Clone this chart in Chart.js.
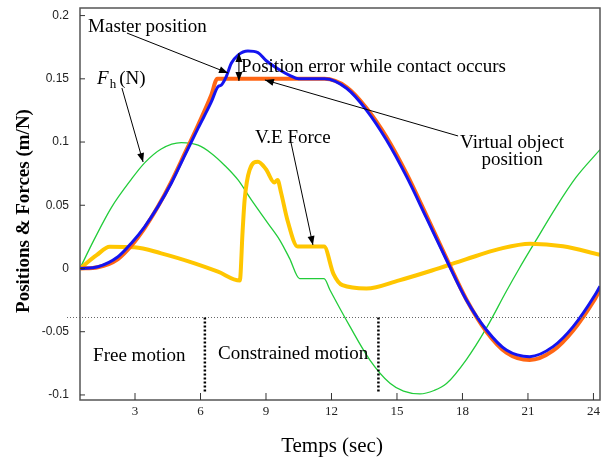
<!DOCTYPE html>
<html>
<head>
<meta charset="utf-8">
<script src="https://cdn.jsdelivr.net/npm/chart.js@4.4.1/dist/chart.umd.min.js"></script>
<style>
  body { margin: 0; background: #fff; }
  #wrap { width: 610px; height: 460px; }
</style>
</head>
<body>
<div id="wrap"><canvas id="grafico"></canvas></div>
<script>
// Master position (blue)
const masterT = [0.48, 1.3, 2.22, 2.83, 3.44, 4.05, 4.66, 5.28, 5.89, 6.49, 6.8, 6.95, 7.18, 7.41, 7.72, 8.17, 8.63, 9.0, 9.63, 10.08, 10.5, 11.68, 12.69, 13.6, 14.52, 15.44, 16.35, 17.27, 18.18, 19.1, 20.01, 21.08, 22.15, 23.07, 24.07, 24.3];
const masterPos = [0, 0.0014, 0.0093, 0.020, 0.033, 0.0489, 0.0674, 0.0895, 0.111, 0.1315, 0.1438, 0.145, 0.1517, 0.1623, 0.1688, 0.172, 0.1707, 0.1645, 0.157, 0.1528, 0.150, 0.150, 0.1425, 0.1253, 0.1016, 0.0726, 0.040, 0.0067, -0.0249, -0.0486, -0.0645, -0.0697, -0.0618, -0.046, -0.021, -0.014];

// Virtual object position (orange)
const objetoT = [0.48, 1.3, 2.22, 2.83, 3.44, 4.05, 4.66, 5.28, 5.89, 6.49, 6.77, 11.68, 12.69, 13.6, 14.52, 15.44, 16.35, 17.27, 18.18, 19.1, 20.01, 21.08, 22.15, 23.07, 24.07, 24.3];
const objetoPos = [0, 0.001, 0.0075, 0.018, 0.032, 0.049, 0.0685, 0.091, 0.1135, 0.137, 0.150, 0.150, 0.1435, 0.127, 0.104, 0.075, 0.042, 0.008, -0.0245, -0.050, -0.0665, -0.0724, -0.065, -0.049, -0.024, -0.017];

// Fh (N) (green)
const fuerzaT = [0.48, 1.0, 1.91, 2.83, 3.44, 4.2, 5.12, 5.89, 6.5, 7.11, 7.72, 8.33, 9.09, 9.63, 10.08, 10.54, 11.66, 11.93, 12.85, 13.76, 14.68, 15.3, 16.05, 16.7, 17.27, 18.18, 19.1, 20.01, 20.6, 21.36, 22.27, 23.2, 24.3];
const fuerzaH = [0, 0.0185, 0.048, 0.0705, 0.0835, 0.0945, 0.0995, 0.0975, 0.091, 0.0815, 0.070, 0.0542, 0.0357, 0.0225, 0.008, -0.008, -0.008, -0.017, -0.046, -0.0724, -0.0908, -0.097, -0.0992, -0.0965, -0.091, -0.072, -0.047, -0.018, 0, 0.022, 0.048, 0.072, 0.094];

// V.E Force (yellow)
const veT = [0.48, 1.24, 1.84, 2.98, 4.2, 5.73, 6.8, 7.8, 7.93, 8.02, 8.25, 8.63, 9.0, 9.38, 9.53, 9.69, 9.99, 10.45, 11.66, 12.09, 12.5, 13.6, 15.1, 16.6, 18.15, 19.7, 21.1, 22.6, 24.3];
const veFuerza = [0, 0.0105, 0.0172, 0.0168, 0.012, 0.0041, -0.0025, -0.0095, 0.030, 0.054, 0.078, 0.0845, 0.0785, 0.068, 0.070, 0.060, 0.0378, 0.0173, 0.0173, -0.0042, -0.0132, -0.0158, -0.0094, -0.0016, 0.0072, 0.0155, 0.0196, 0.0176, 0.0108];

const xTicks = [3, 6, 9, 12, 15, 18, 21, 24];
const yTicks = [-0.1, -0.05, 0, 0.05, 0.1, 0.15, 0.2];
const nivelContacto = -0.0386;
const limitesFase = [6.2, 14.15];

const serif = '"Liberation Serif", "Times New Roman", serif';

function puntos(ts, vs) {
  return ts.map((t, i) => ({ x: t, y: vs[i] }));
}

function linea(label, ts, vs, color, ancho) {
  return {
    label: label,
    data: puntos(ts, vs),
    borderColor: color,
    borderWidth: ancho,
    pointRadius: 0,
    fill: false,
    cubicInterpolationMode: 'monotone'
  };
}

function flecha(ctx, x1, y1, x2, y2, doble) {
  ctx.beginPath();
  ctx.moveTo(x1, y1);
  ctx.lineTo(x2, y2);
  ctx.stroke();
  punta(ctx, x1, y1, x2, y2);
  if (doble) punta(ctx, x2, y2, x1, y1);
}

function punta(ctx, x1, y1, x2, y2) {
  const a = Math.atan2(y2 - y1, x2 - x1);
  const l = 9, w = 3.5;
  ctx.beginPath();
  ctx.moveTo(x2, y2);
  ctx.lineTo(x2 - l * Math.cos(a) + w * Math.sin(a), y2 - l * Math.sin(a) - w * Math.cos(a));
  ctx.lineTo(x2 - l * Math.cos(a) - w * Math.sin(a), y2 - l * Math.sin(a) + w * Math.cos(a));
  ctx.closePath();
  ctx.fill();
}

// textos y flechas en coordenadas de datos
const notas = [
  { texto: 'Master position', t: 0.85, v: 0.1874, align: 'left' },
  { texto: 'Position error while contact occurs', t: 7.86, v: 0.1556, align: 'left' },
  { texto: 'V.E Force', t: 8.5, v: 0.0995, align: 'left' },
  { texto: 'Virtual object', t: 20.27, v: 0.0951, align: 'center' },
  { texto: 'position', t: 20.27, v: 0.0815, align: 'center' },
  { texto: 'Free motion', t: 1.08, v: -0.0732, align: 'left' },
  { texto: 'Constrained motion', t: 6.8, v: -0.0712, align: 'left' }
];
const flechas = [
  { t1: 2.63, v1: 0.1862, t2: 7.26, v2: 0.1546 },
  { t1: 7.76, v1: 0.1704, t2: 7.76, v2: 0.1483, doble: true },
  { t1: 17.8, v1: 0.1048, t2: 8.95, v2: 0.1491 },
  { t1: 10.15, v1: 0.0992, t2: 11.15, v2: 0.0186 },
  { t1: 2.4, v1: 0.1427, t2: 3.37, v2: 0.0842 }
];

const anotaciones = {
  id: 'anotaciones',
  afterDatasetsDraw(chart) {
    const ctx = chart.ctx;
    const a = chart.chartArea;
    const xs = chart.scales.x, ys = chart.scales.y;
    ctx.save();

    // marco
    ctx.strokeStyle = '#555';
    ctx.lineWidth = 1.5;
    ctx.strokeRect(a.left, a.top, a.right - a.left, a.bottom - a.top);

    // marcas de ejes hacia dentro
    ctx.lineWidth = 1;
    ctx.strokeStyle = '#333';
    ctx.beginPath();
    xTicks.forEach(t => {
      const px = xs.getPixelForValue(t);
      ctx.moveTo(px, a.bottom);
      ctx.lineTo(px, a.bottom - 7);
    });
    yTicks.forEach(v => {
      const py = ys.getPixelForValue(v);
      ctx.moveTo(a.left, py);
      ctx.lineTo(a.left + 5, py);
    });
    ctx.stroke();

    // linea punteada horizontal
    const yc = Math.round(ys.getPixelForValue(nivelContacto)) + 0.5;
    ctx.strokeStyle = '#666';
    ctx.setLineDash([1, 2]);
    ctx.beginPath();
    ctx.moveTo(a.left - 13, yc);
    ctx.lineTo(a.right, yc);
    ctx.stroke();

    // lineas punteadas verticales
    ctx.strokeStyle = '#000';
    ctx.lineWidth = 2.5;
    ctx.setLineDash([2, 2]);
    limitesFase.forEach(t => {
      const px = xs.getPixelForValue(t);
      ctx.beginPath();
      ctx.moveTo(px, yc);
      ctx.lineTo(px, ys.getPixelForValue(-0.0985));
      ctx.stroke();
    });
    ctx.setLineDash([]);

    // textos
    ctx.fillStyle = '#000';
    ctx.font = '19px ' + serif;
    ctx.textBaseline = 'alphabetic';
    notas.forEach(n => {
      ctx.textAlign = n.align;
      ctx.fillText(n.texto, xs.getPixelForValue(n.t), ys.getPixelForValue(n.v));
    });

    // F_h (N)
    let fx = xs.getPixelForValue(1.26), fy = ys.getPixelForValue(0.1459);
    ctx.textAlign = 'left';
    ctx.font = 'italic 19px ' + serif;
    ctx.fillText('F', fx, fy);
    fx += ctx.measureText('F').width + 1;
    ctx.font = '13px ' + serif;
    ctx.fillText('h', fx, fy + 4);
    fx += ctx.measureText('h').width + 3;
    ctx.font = '19px ' + serif;
    ctx.fillText('(N)', fx, fy);

    // flechas
    ctx.strokeStyle = '#000';
    ctx.lineWidth = 1;
    flechas.forEach(f => {
      flecha(ctx, xs.getPixelForValue(f.t1), ys.getPixelForValue(f.v1),
        xs.getPixelForValue(f.t2), ys.getPixelForValue(f.v2), f.doble);
    });

    // titulos de ejes
    ctx.textAlign = 'center';
    ctx.font = '21px ' + serif;
    ctx.fillText('Temps (sec)', (a.left + a.right) / 2 - 8, 452);
    ctx.translate(24, 211);
    ctx.rotate(-Math.PI / 2);
    ctx.textBaseline = 'middle';
    ctx.font = 'bold 19px ' + serif;
    ctx.fillText('Positions & Forces (m/N)', 0, 0);
    ctx.restore();
  }
};

// el primer dataset queda encima
new Chart(document.getElementById('grafico'), {
  type: 'line',
  data: {
    datasets: [
      linea('Master position', masterT, masterPos, '#1414f0', 3),
      linea('Virtual object position', objetoT, objetoPos, '#ff6614', 4),
      linea('V.E Force', veT, veFuerza, '#ffc600', 4),
      linea('Fh (N)', fuerzaT, fuerzaH, '#22cc3a', 1.3)
    ]
  },
  options: {
    responsive: true,
    maintainAspectRatio: false,
    animation: false,
    layout: { padding: { top: 8, right: 10, left: 0, bottom: 0 } },
    plugins: {
      legend: { display: false },
      tooltip: { enabled: false }
    },
    scales: {
      x: {
        type: 'linear',
        min: 0.48,
        max: 24.3,
        afterBuildTicks: s => { s.ticks = xTicks.map(v => ({ value: v })); },
        afterFit: s => { s.height = 60; s.paddingLeft = 0; s.paddingRight = 0; },
        grid: { display: false, drawTicks: false },
        border: { display: false },
        ticks: {
          autoSkip: false,
          maxRotation: 0,
          padding: 4,
          color: '#222',
          font: { family: serif, size: 13 },
          callback: v => String(v)
        }
      },
      y: {
        type: 'linear',
        min: -0.104,
        max: 0.206,
        afterBuildTicks: s => { s.ticks = yTicks.map(v => ({ value: v })); },
        afterFit: s => { s.width = 80; s.paddingTop = 0; s.paddingBottom = 0; },
        grid: { display: false, drawTicks: false },
        border: { display: false },
        ticks: {
          padding: 11,
          color: '#222',
          font: { family: '"Liberation Sans", Arial, sans-serif', size: 12 },
          callback: v => String(v)
        }
      }
    }
  },
  plugins: [anotaciones]
});
</script>
</body>
</html>
